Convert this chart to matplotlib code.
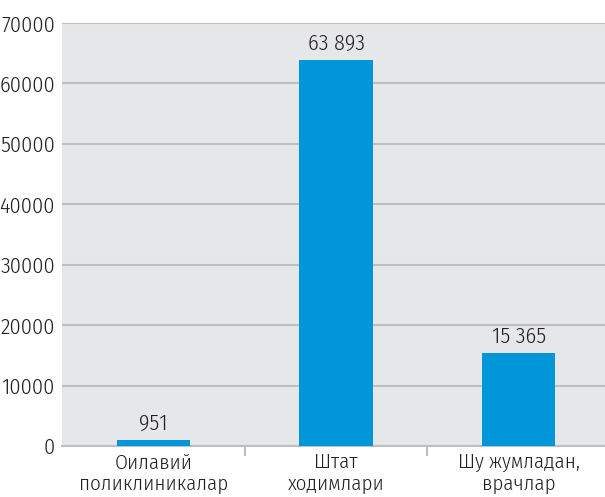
import matplotlib
matplotlib.use("Agg")
import matplotlib.pyplot as plt

categories = ["Оилавий\nполиклиникалар", "Штат\nходимлари", "Шу жумладан,\nврачлар"]
values = [951, 63893, 15365]
value_labels = ["951", "63 893", "15 365"]
yticks = [0, 10000, 20000, 30000, 40000, 50000, 60000, 70000]

plt.rcParams['font.family'] = ["Fira Sans Condensed", "DejaVu Sans"]
plt.rcParams['font.weight'] = 300

fig = plt.figure(figsize=(6.05, 4.97), dpi=100)
ax = fig.add_axes([62/605, 51/497, 548/605, 423/497])
ax.set_facecolor("#e6e7e8")
x = list(range(len(categories)))
ax.bar(x, values, width=0.4, color="#0096d9", zorder=3)
ax.set_xlim(-0.5, 2.5)
ax.set_ylim(0, 70000)
ax.set_yticks(yticks)
ax.set_yticklabels([str(t) for t in yticks], fontsize=16, color="#231f20")
ax.yaxis.grid(True, color="#bcbec0", linewidth=1.5, zorder=1)
ax.set_axisbelow(True)
ax.tick_params(axis='y', length=0, pad=5)
ax.set_xticks(x)
ax.set_xticklabels(categories, fontsize=15, color="#231f20", linespacing=1.15)
ax.tick_params(axis='x', length=0, pad=5)
ax.set_xticks([0.5, 1.5], minor=True)
ax.tick_params(axis='x', which='minor', length=7, width=1.5, color="#bcbec0")
for s in ["left", "right", "top"]:
    ax.spines[s].set_visible(False)
ax.spines["bottom"].set_color("#bcbec0")
ax.spines["bottom"].set_linewidth(1.5)
for xi, v, lab in zip(x, values, value_labels):
    ax.annotate(lab, (xi, v), xytext=(0, 4), textcoords="offset points",
                ha="center", va="bottom", fontsize=16, color="#231f20")
fig.savefig("out.png", dpi=100)
